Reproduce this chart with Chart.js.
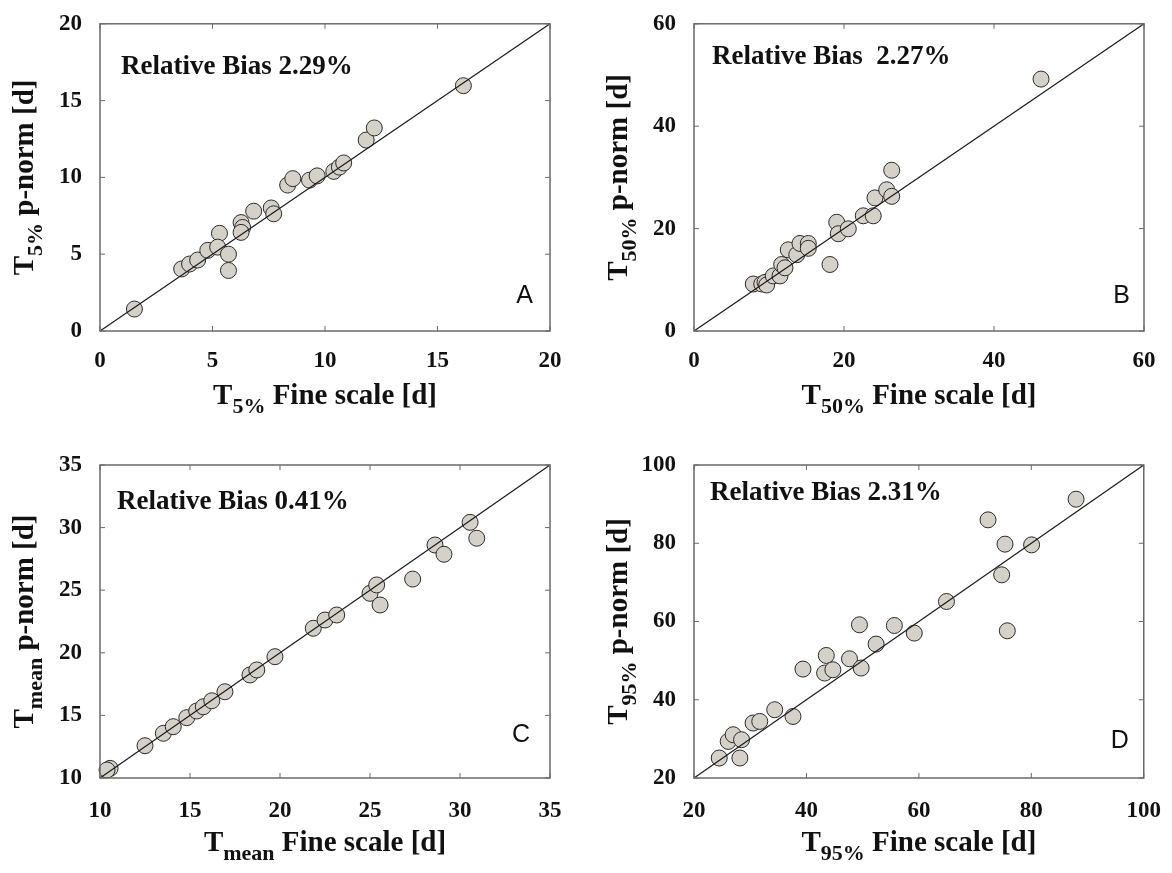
<!DOCTYPE html>
<html>
<head>
<meta charset="utf-8">
<script src="https://cdn.jsdelivr.net/npm/chart.js@4.4.1/dist/chart.umd.min.js"></script>
<style>
  body { margin: 0; background: #fff; }
  #wrap { position: relative; width: 1172px; height: 873px; background: #fff; }
  canvas { position: absolute; }
</style>
</head>
<body>
<div id="wrap">
  <canvas id="pA" width="586" height="436" style="left:0;top:0"></canvas>
  <canvas id="pB" width="586" height="436" style="left:586px;top:0"></canvas>
  <canvas id="pC" width="586" height="437" style="left:0;top:436px"></canvas>
  <canvas id="pD" width="586" height="437" style="left:586px;top:436px"></canvas>
</div>
<script>
// T5%
const aFine  = [1.53, 3.63, 3.98, 4.34, 4.79, 5.31, 5.23, 5.71, 5.71, 6.27, 6.34, 6.27, 6.83, 7.61, 7.72, 8.34, 8.57, 9.31, 9.65, 10.39, 10.64, 10.83, 11.83, 12.19, 16.15];
const aPnorm = [1.43, 4.04, 4.36, 4.62, 5.25, 6.36, 5.46, 5.00, 3.94, 7.06, 6.74, 6.42, 7.80, 8.01, 7.63, 9.50, 9.92, 9.82, 10.10, 10.39, 10.67, 10.94, 12.43, 13.22, 15.97];
const aTicks = [0, 5, 10, 15, 20];

// T50%
const bFine  = [7.9, 9.03, 9.47, 9.69, 10.57, 11.47, 11.69, 12.13, 12.57, 13.7, 14.13, 15.24, 15.24, 18.13, 19.03, 19.24, 20.57, 22.57, 23.9, 24.13, 25.69, 26.36, 26.36, 46.27];
const bPnorm = [9.18, 9.18, 9.49, 8.99, 10.76, 10.76, 12.99, 12.34, 15.85, 14.9, 17.1, 17.1, 16.15, 12.99, 21.24, 19.0, 19.96, 22.5, 22.5, 26.0, 27.58, 26.3, 31.4, 49.2];
const bTicks = [0, 20, 40, 60];

// Tmean
const cFine  = [10.56, 10.39, 12.5, 13.52, 14.07, 14.82, 15.37, 15.74, 16.21, 16.94, 18.33, 18.71, 19.72, 21.85, 22.5, 23.15, 25.0, 25.37, 25.56, 27.37, 28.61, 29.11, 30.56, 30.93];
const cPnorm = [10.77, 10.64, 12.58, 13.57, 14.1, 14.82, 15.35, 15.69, 16.17, 16.89, 18.23, 18.63, 19.69, 21.96, 22.62, 23.02, 24.75, 25.42, 23.82, 25.89, 28.61, 27.87, 30.42, 29.15];
const cTicks = [10, 15, 20, 25, 30, 35];

// T95%
const dFine  = [24.49, 28.16, 26.08, 26.97, 28.46, 30.51, 31.7, 34.36, 37.61, 39.38, 43.23, 43.53, 44.7, 47.66, 49.73, 49.43, 52.39, 55.64, 59.18, 64.91, 72.3, 75.32, 74.73, 75.73, 80.05, 87.96];
const dPnorm = [25.11, 25.11, 29.35, 31.06, 29.78, 34.05, 34.46, 37.45, 35.73, 47.84, 46.82, 51.32, 47.66, 50.47, 48.1, 59.16, 54.23, 58.98, 57.04, 65.11, 85.98, 79.77, 71.93, 57.62, 79.59, 91.26];
const dTicks = [20, 40, 60, 80, 100];

const subs = ['5%', '50%', 'mean', '95%'];
const biasLabels = ['Relative Bias 2.29%', 'Relative Bias  2.27%', 'Relative Bias 0.41%', 'Relative Bias 2.31%'];
const letters = ['A', 'B', 'C', 'D'];

const SERIF = '"Liberation Serif", "Times New Roman", serif';

function drawTitle(ctx, parts, cx, y) {
    let total = 0;
    parts.forEach(p => { ctx.font = p.font; p.w = ctx.measureText(p.t).width; total += p.w; });
    let x = cx - total / 2;
    ctx.textAlign = 'left';
    ctx.textBaseline = 'alphabetic';
    parts.forEach(p => { ctx.font = p.font; ctx.fillText(p.t, x, y + p.dy); x += p.w; });
}

function titleParts(sub, rest) {
    return [
        {t: 'T', font: 'bold 29px ' + SERIF, dy: 0},
        {t: sub, font: 'bold 22px ' + SERIF, dy: 9},
        {t: rest, font: 'bold 29px ' + SERIF, dy: 0}
    ];
}

const frame = {
    id: 'frame',
    afterDraw(chart) {
        const o = chart.options.plugins.frame;
        const ctx = chart.ctx, a = chart.chartArea;
        const xs = chart.scales.x, ys = chart.scales.y;
        ctx.save();
        ctx.strokeStyle = '#6a6a6a';
        ctx.lineWidth = 1;
        ctx.beginPath();
        xs.ticks.forEach(t => {
            let p = xs.getPixelForValue(t.value);
            ctx.moveTo(p, a.bottom); ctx.lineTo(p, a.bottom - 5);
            ctx.moveTo(p, a.top); ctx.lineTo(p, a.top + 5);
        });
        ys.ticks.forEach(t => {
            let p = ys.getPixelForValue(t.value);
            ctx.moveTo(a.left, p); ctx.lineTo(a.left + 5, p);
            ctx.moveTo(a.right, p); ctx.lineTo(a.right - 5, p);
        });
        ctx.stroke();
        ctx.lineWidth = 1.5;
        ctx.strokeRect(a.left, a.top, a.right - a.left, a.bottom - a.top);

        ctx.fillStyle = '#111';
        // x title
        drawTitle(ctx, titleParts(o.sub, ' Fine scale [d]'), (a.left + a.right) / 2, a.bottom + 73);
        // y title, rotated
        ctx.save();
        ctx.translate(a.left - 67, (a.top + a.bottom) / 2);
        ctx.rotate(-Math.PI / 2);
        drawTitle(ctx, titleParts(o.sub, ' p-norm [d]'), 0, 0);
        ctx.restore();

        ctx.font = 'bold 27px ' + SERIF;
        ctx.textAlign = 'left';
        ctx.fillText(o.bias, a.left + o.biasDx, a.top + o.biasDy);

        ctx.font = '25px "Liberation Sans", Arial, sans-serif';
        ctx.textAlign = 'right';
        ctx.fillText(o.letter, a.right - o.letterDx, a.bottom - o.letterDy);
        ctx.restore();
    }
};

function makePanel(id, fine, pnorm, ticks, i, box) {
    const lo = ticks[0], hi = ticks[ticks.length - 1];
    const pts = fine.map((v, k) => ({x: v, y: pnorm[k]}));
    const tickFont = {family: SERIF, size: 23, weight: 'bold'};
    new Chart(document.getElementById(id), {
        type: 'scatter',
        data: {
            datasets: [{
                type: 'line',
                data: [{x: lo, y: lo}, {x: hi, y: hi}],
                borderColor: '#1a1a1a',
                borderWidth: 1.2,
                pointRadius: 0,
                clip: false
            }, {
                data: pts,
                backgroundColor: '#d5d1c9',
                borderColor: '#2a2a2a',
                borderWidth: 1,
                pointRadius: 8,
                clip: false
            }]
        },
        options: {
            responsive: false,
            animation: false,
            events: [],
            layout: {padding: {left: 0, top: box.top, right: box.right, bottom: 0}},
            plugins: {
                legend: {display: false},
                tooltip: {enabled: false},
                frame: {sub: subs[i], bias: biasLabels[i], letter: letters[i],
                        biasDx: box.biasDx, biasDy: box.biasDy, letterDx: box.letterDx, letterDy: box.letterDy}
            },
            scales: {
                x: {
                    type: 'linear', min: lo, max: hi,
                    grid: {display: false},
                    border: {display: false},
                    ticks: {font: tickFont, color: '#111', padding: box.xpad, maxRotation: 0, autoSkip: false},
                    afterBuildTicks: s => { s.ticks = ticks.map(v => ({value: v})); },
                    afterFit: s => { s.height = box.xh; }
                },
                y: {
                    type: 'linear', min: lo, max: hi,
                    grid: {display: false},
                    border: {display: false},
                    ticks: {font: tickFont, color: '#111', padding: 10, autoSkip: false},
                    afterBuildTicks: s => { s.ticks = ticks.map(v => ({value: v})); },
                    afterFit: s => { s.width = box.yw; }
                }
            }
        },
        plugins: [frame]
    });
}

makePanel('pA', aFine, aPnorm, aTicks, 0, {top: 17, right: 36, yw: 100, xh: 105, xpad: 8, biasDx: 21, biasDy: 50, letterDx: 17, letterDy: 28});
makePanel('pB', bFine, bPnorm, bTicks, 1, {top: 17, right: 28, yw: 108, xh: 105, xpad: 8, biasDx: 18, biasDy: 40, letterDx: 14, letterDy: 28});
makePanel('pC', cFine, cPnorm, cTicks, 2, {top: 29, right: 36, yw: 100, xh: 95, xpad: 11, biasDx: 17, biasDy: 44, letterDx: 20, letterDy: 36});
makePanel('pD', dFine, dPnorm, dTicks, 3, {top: 29, right: 28, yw: 108, xh: 95, xpad: 11, biasDx: 16, biasDy: 35, letterDx: 15, letterDy: 30});
</script>
</body>
</html>
